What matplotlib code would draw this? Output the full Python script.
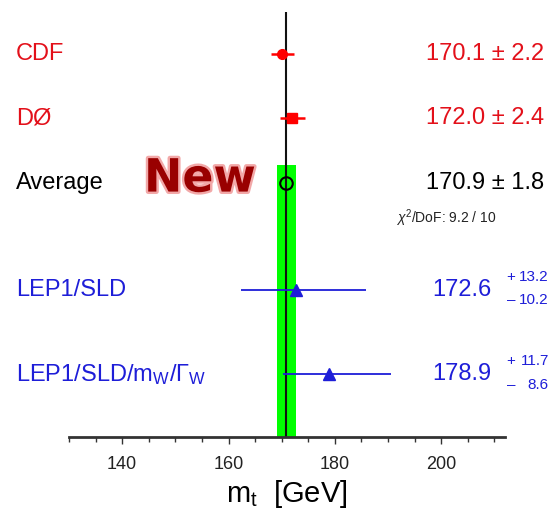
import numpy as np
import matplotlib.pyplot as plt
import matplotlib.patheffects as pe
from matplotlib.ticker import MultipleLocator
from matplotlib.transforms import blended_transform_factory

plt.rcParams['font.family'] = ['Liberation Sans', 'DejaVu Sans']
plt.rcParams['mathtext.fontset'] = 'custom'
plt.rcParams['mathtext.rm'] = 'Liberation Sans'
plt.rcParams['mathtext.it'] = 'Liberation Sans:italic'
plt.rcParams['mathtext.bf'] = 'Liberation Sans:bold'

# ---------- Data (top mass measurements, GeV) ----------
labels = ['CDF', 'DØ', 'Average', 'LEP1/SLD',
          r'LEP1/SLD/m$_{\rm W}$/$\Gamma_{\rm W}$']
central = [170.1, 172.0, 170.9, 172.6, 178.9]
err_plus = [2.2, 2.4, 1.8, 13.2, 11.7]
err_minus = [2.2, 2.4, 1.8, 10.2, 8.6]
chi2_text = r'$\chi^2$/DoF: 9.2 / 10'

# row layout (top to bottom)
ypos = [5.98, 4.98, 3.97, 2.30, 0.98]
RED = '#e3101a'
BLUE = '#1e1ed8'
row_colors = [RED, RED, 'black', BLUE, BLUE]

fig = plt.figure(figsize=(5.51, 5.24), dpi=100)
ax = fig.add_axes([69 / 551, 87 / 524, 436 / 551, 425 / 524])
ax.set_xlim(130, 212)
ax.set_ylim(0, 425 / 64)

# average band + line
avg = central[2]
ax.fill_betweenx([0, 4.25], avg - err_minus[2], avg + err_plus[2],
                 color='#00ff00', lw=0, zorder=1)
ax.axvline(avg, color='#111111', lw=1.5, zorder=2)

# CDF / D0
ax.errorbar(central[0], ypos[0], xerr=[[err_minus[0]], [err_plus[0]]],
            fmt='o', color='red', ms=7, elinewidth=1.8, capsize=0, zorder=3)
ax.errorbar(central[1], ypos[1], xerr=[[err_minus[1]], [err_plus[1]]],
            fmt='s', color='red', ms=7.5, elinewidth=1.8, capsize=0, zorder=3)
# average marker
ax.plot(central[2], ypos[2], 'o', mfc='none', mec='black', ms=9, mew=1.5,
        zorder=3)
# LEP / SLD indirect
for i in (3, 4):
    ax.errorbar(central[i], ypos[i], xerr=[[err_minus[i]], [err_plus[i]]],
                fmt='^', color=BLUE, ms=8, elinewidth=1.3, capsize=0,
                zorder=3)

# ---------- Axes styling ----------
for s in ('left', 'right', 'top'):
    ax.spines[s].set_visible(False)
ax.spines['bottom'].set_linewidth(2)
ax.spines['bottom'].set_color('#333333')
ax.set_yticks([])
ax.xaxis.set_major_locator(MultipleLocator(20))
ax.xaxis.set_minor_locator(MultipleLocator(5))
ax.tick_params(axis='x', which='major', direction='out', length=5, width=1,
               pad=9, labelsize=13, colors='#333333', labelcolor='#222222')
ax.tick_params(axis='x', which='minor', direction='out', length=3.5, width=1,
               colors='#333333')
ax.set_xticks([140, 160, 180, 200])
ax.set_xlabel(r'm$_{\rm t}$  [GeV]', fontsize=21, labelpad=3)

# ---------- Text ----------
tl = blended_transform_factory(fig.transFigure, ax.transData)
for lab, y, c in zip(labels, ypos, row_colors):
    ax.text(16 / 551, y, lab, transform=tl, color=c, fontsize=17,
            ha='left', va='center')

for i in range(3):
    ax.text(544 / 551, ypos[i],
            f'{central[i]:.1f} \u00b1 {err_plus[i]:.1f}', transform=tl,
            color=row_colors[i], fontsize=17, ha='right', va='center')

for i in (3, 4):
    ax.text(491 / 551, ypos[i], f'{central[i]:.1f}', transform=tl,
            color=BLUE, fontsize=17, ha='right', va='center')
    ax.text(511 / 551, ypos[i] + 0.2, '+', transform=tl, color=BLUE,
            fontsize=11, ha='center', va='center')
    ax.text(511 / 551, ypos[i] - 0.16, '\u2013', transform=tl, color=BLUE,
            fontsize=11, ha='center', va='center')
    ax.text(549 / 551, ypos[i] + 0.2, f'{err_plus[i]:.1f}', transform=tl,
            color=BLUE, fontsize=11, ha='right', va='center')
    ax.text(549 / 551, ypos[i] - 0.16, f'{err_minus[i]:.1f}', transform=tl,
            color=BLUE, fontsize=11, ha='right', va='center')

ax.text(446 / 551, ypos[2] - 0.55, chi2_text, transform=tl, fontsize=10,
        color='#222222', ha='center', va='center')

ax.text(200 / 551, ypos[2] + 0.06, 'New', transform=tl, fontsize=33,
        family='DejaVu Sans', fontweight='heavy', color='#990000',
        ha='center', va='center',
        path_effects=[pe.withStroke(linewidth=3.5, foreground='#f2a8a8')])

fig.savefig('out.png', dpi=100)
